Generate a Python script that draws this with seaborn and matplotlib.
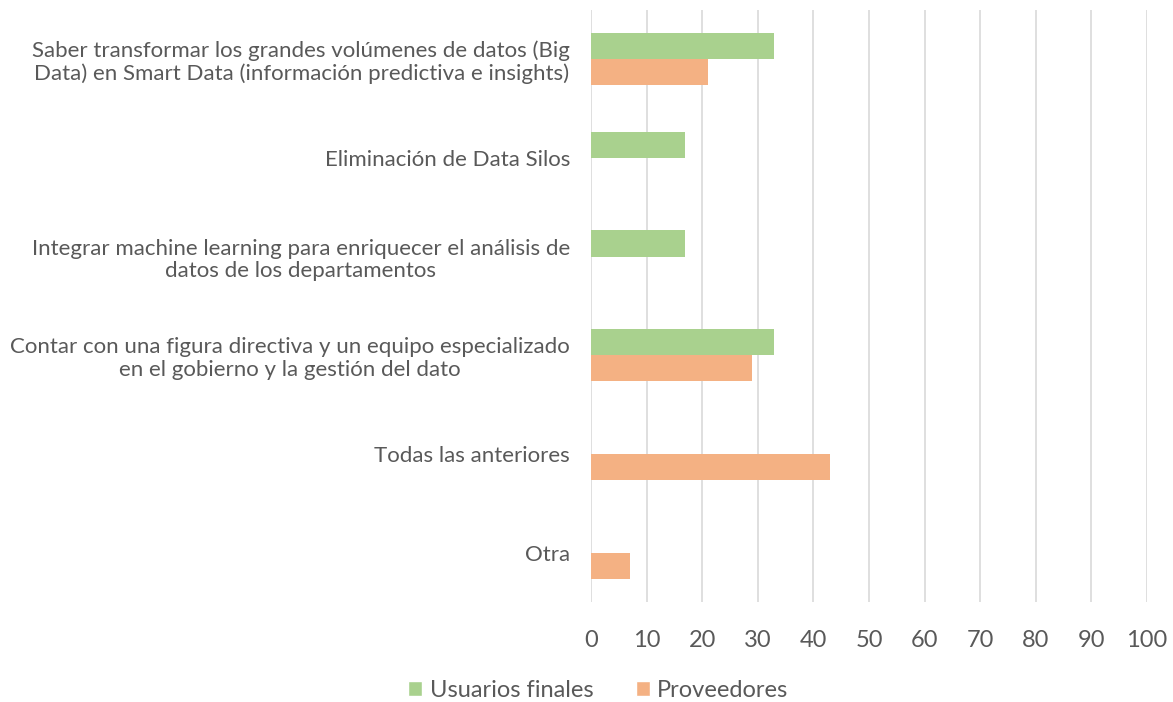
import matplotlib
matplotlib.use("Agg")
import matplotlib.pyplot as plt
import seaborn as sns
import pandas as pd
from matplotlib.patches import Patch

categories = [
    "Saber transformar los grandes volúmenes de datos (Big\nData) en Smart Data (información predictiva e insights)",
    "Eliminación de Data Silos",
    "Integrar machine learning para enriquecer el análisis de\ndatos de los departamentos",
    "Contar con una figura directiva y un equipo especializado\nen el gobierno y la gestión del dato",
    "Todas las anteriores",
    "Otra",
]
series_names = ["Usuarios finales", "Proveedores"]
usuarios = [33, 17, 17, 33, 0, 0]
proveedores = [21, 0, 0, 29, 43, 7]
x_ticks = [0, 10, 20, 30, 40, 50, 60, 70, 80, 90, 100]

df = pd.DataFrame({
    "cat": categories * 2,
    "serie": [series_names[0]] * 6 + [series_names[1]] * 6,
    "valor": usuarios + proveedores,
})

sns.set_theme(style="white")
plt.rcParams["font.family"] = ["Lato", "DejaVu Sans"]
text_color = "#595959"

fig = plt.figure(figsize=(11.73, 7.02), dpi=100)
ax = fig.add_axes([0.5038, 0.1425, 0.4740, 0.8433])

sns.barplot(data=df, y="cat", x="valor", hue="serie", orient="h",
            palette=["#A9D18E", "#F4B183"], width=0.53, ax=ax,
            order=categories, hue_order=series_names, legend=False,
            edgecolor="none", saturation=1)

ax.set_xlim(0, 100)
ax.set_xticks(x_ticks)
ax.set_xticklabels([str(t) for t in x_ticks], fontsize=17, color=text_color)
ax.grid(axis="x", color="#D9D9D9", linewidth=1.2)
ax.set_axisbelow(True)
for s in ax.spines.values():
    s.set_visible(False)
ax.set_xlabel("")
ax.set_ylabel("")
ax.tick_params(axis="x", length=0, pad=20)
ax.tick_params(axis="y", length=0, pad=15)
for lbl in ax.get_yticklabels():
    lbl.set_fontsize(16)
    lbl.set_color(text_color)
    lbl.set_multialignment("center")
    lbl.set_linespacing(1.15)

handles = [Patch(facecolor="#A9D18E"), Patch(facecolor="#F4B183")]
leg = fig.legend(handles, series_names, loc="center", bbox_to_anchor=(0.51, 0.017),
                 ncol=2, frameon=False, fontsize=17, handlelength=0.6, handleheight=0.6,
                 handletextpad=0.3, columnspacing=1.8)
for t in leg.get_texts():
    t.set_color(text_color)

fig.savefig("out.png", dpi=100)
